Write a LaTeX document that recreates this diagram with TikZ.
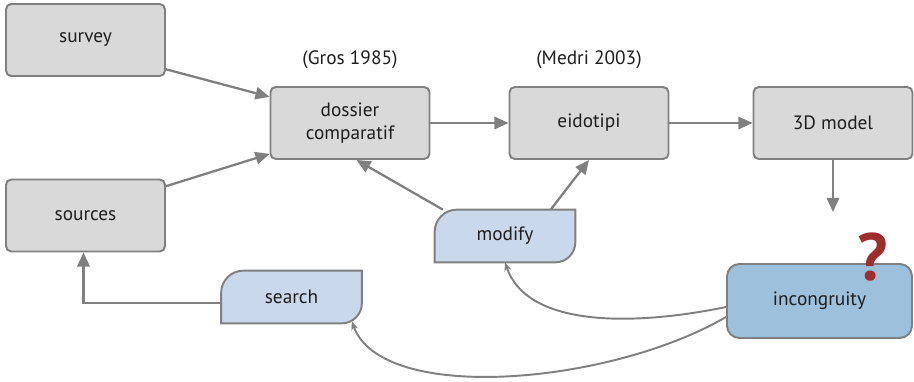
\documentclass[tikz,border=0pt]{standalone}
\usepackage{fontspec}
\setmainfont{PT Sans}
\usepackage{tikz}
\usetikzlibrary{arrows.meta,calc,backgrounds}

\definecolor{linegray}{RGB}{128,128,128}
\definecolor{boxgray}{RGB}{217,217,217}
\definecolor{tagblue}{RGB}{202,216,236}
\definecolor{alertblue}{RGB}{157,192,220}
\definecolor{qred}{RGB}{160,45,45}
\definecolor{textgray}{RGB}{30,30,30}

\tikzset{
	stepbox/.style = {rectangle, rounded corners = 3pt, draw = linegray, line width = 1.1pt,
		fill = boxgray, minimum width = 3.18cm, minimum height = 1.44cm, inner sep = 0pt,
		align = center, text = textgray, font = \fontsize{11}{13.5}\selectfont},
	tagbox/.style = {rectangle, minimum width = 2.8cm, minimum height = 1.04cm, inner sep = 0pt,
		text = textgray, font = \fontsize{11}{13.5}\selectfont},
	tagline/.style = {draw = linegray, line width = 1.1pt, fill = tagblue},
	flow/.style = {draw = linegray, line width = 1.3pt, -{Triangle[length = 8pt, width = 7pt]}},
	loop/.style = {draw = linegray, line width = 1.1pt, -{Stealth[length = 5pt, width = 4pt]}}
}

\newcommand{\tagpath}[1]{%
	\draw[tagline] (#1.south west) -- ($(#1.north west)+(0,22)$)
		.. controls ($(#1.north west)+(0,10)$) and ($(#1.north west)+(10,0)$) .. ($(#1.north west)+(22,0)$)
		-- (#1.north east) -- ($(#1.south east)+(0,-20)$)
		.. controls ($(#1.south east)+(0,-9)$) and ($(#1.south east)+(-9,0)$) .. ($(#1.south east)+(-20,0)$)
		-- cycle;}

\begin{document}
\begin{tikzpicture}[x = 0.02cm, y = -0.02cm]
		
		\useasboundingbox (0, 0) rectangle (914, 382);
		
		\node[stepbox] (survey) at (85.5, 40) {survey};
		\node[stepbox] (sources) at (85.5, 215.5) {sources};
		\node[stepbox] (dossier) at (350, 123) {dossier\\comparatif};
		\node[stepbox] (eidotipi) at (589, 123) {eidotipi};
		\node[stepbox] (model) at (833, 123) {3D model};
		
		\node[text = textgray, font = \fontsize{11}{13.5}\selectfont] (gros) at (350, 60) {(Gros 1985)};
		\node[text = textgray, font = \fontsize{11}{13.5}\selectfont] (medri) at (589, 60) {(Medri 2003)};
		
		\node[tagbox] (modify) at (505, 236) {modify};
		\node[tagbox] (search) at (291.5, 297) {search};
		
		\node[stepbox, fill = alertblue, rounded corners = 7pt, minimum width = 3.7cm,
			minimum height = 1.48cm] (incongruity) at (819.5, 301) {incongruity};
		\node[text = qred, font = \fontsize{38}{38}\bfseries\selectfont] (qmark) at (873, 257) {?};
		
		\begin{scope}[on background layer]
			\tagpath{modify}
			\tagpath{search}
		\end{scope}
		
		\coordinate (drop) at (833, 212);
		
		\draw[flow] (survey.-20) -- (dossier.162);
		\draw[flow] (sources.20) -- (dossier.201);
		\draw[flow] (dossier) -- (eidotipi);
		\draw[flow] (eidotipi) -- (model);
		\draw[flow] (model.south) -- (drop);
		\draw[flow] (modify.157) -- (dossier.-80);
		\draw[flow] (modify.30) -- (eidotipi.south);
		\draw[flow] ($(search.west)+(0, 6)$) -| ($(sources.south)+(-2, 0)$);
		
		\draw[loop] ($(incongruity.west)+(0, 6)$) .. controls +(-87, 18) and +(23, 67) .. (modify.south);
		\draw[loop] ($(incongruity.west)+(0, 16)$) .. controls +(-117, 68) and +(30, 83) .. ($(search.south east)+(-10, -2)$);
		
	\end{tikzpicture}
\end{document}
